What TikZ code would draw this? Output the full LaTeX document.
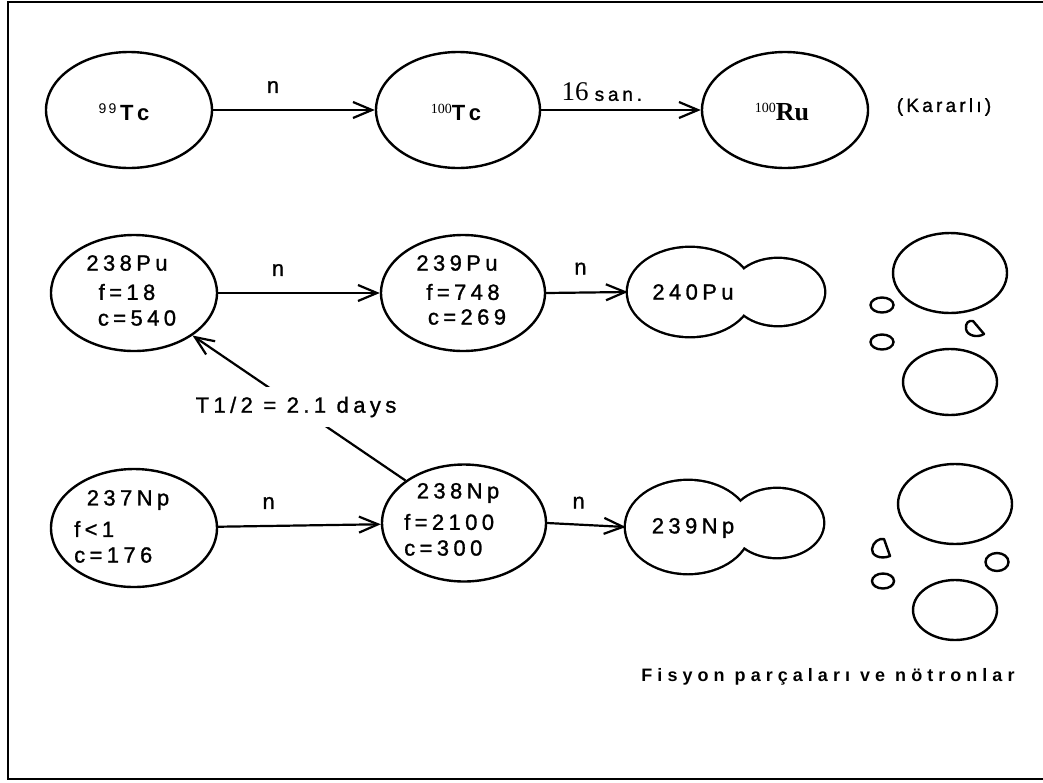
\documentclass[tikz,border=0pt]{standalone}
\usepackage{fontspec}
\setmainfont{Liberation Sans}
\newfontfamily\trk[LetterSpace=20,FakeBold=1.2]{Liberation Sans}
\newfontfamily\trks[LetterSpace=17,FakeBold=1.2]{Liberation Sans}
\newfontfamily\trkc[LetterSpace=28]{Liberation Sans}
\newfontfamily\ser{Liberation Serif}
\usetikzlibrary{arrows.meta,shapes.geometric}

\begin{document}
\begin{tikzpicture}[x=1pt,y=-1pt,
  nuc/.style={draw, ellipse, line width=2.4pt, inner sep=0pt,
              minimum width=166pt, minimum height=116pt},
  lobe/.style={ellipse, inner sep=0pt},
  frag/.style={draw, ellipse, line width=2.4pt, inner sep=0pt},
  conn/.style={line width=2.2pt, -{Straight Barb[length=19pt,width=16pt,line width=2.2pt]}},
  lbl/.style={font=\trk\fontsize{22pt}{24pt}\selectfont, inner sep=0pt},
  llbl/.style={lbl, anchor=west},
  iso/.style={font=\bfseries\fontsize{22pt}{24pt}\selectfont, inner sep=0pt}
]
\useasboundingbox (0,0) rectangle (1043,782);
% frame
\draw[line width=2.6pt] (1043,2) -- (8,2) -- (8,779) -- (1043,779);

% ---- row 1: technetium
\node[nuc] (tc99)  at (129,110) {};
\node[nuc, minimum width=164pt] (tc100) at (458,110) {};
\node[nuc] (ru100) at (785,110) {};
\node[iso] (ttc99) at (124,112) {\raisebox{7pt}{\mdseries\fontsize{14pt}{14pt}\selectfont 9\,9}\,T\,c};
\node[iso] (ttc100) at (456,112) {\raisebox{7pt}{\ser\mdseries\fontsize{14pt}{14pt}\selectfont 100}T\,c};
\node[iso] (tru100) at (782,112) {\raisebox{8pt}{\ser\mdseries\fontsize{14pt}{14pt}\selectfont 100}\ser\fontsize{26pt}{28pt}\selectfont Ru};
\node[font=\trks\fontsize{19pt}{22pt}\selectfont, inner sep=0pt] (kar) at (944,107) {(Kararlı)};
\draw[conn] (tc99) -- (tc100) node[lbl, pos=0.37, yshift=23pt] (n1) {n};
\draw[conn] (tc100) -- (ru100) node[inner sep=0pt, pos=0.38, yshift=18pt] (t16)
  {{\ser\fontsize{27pt}{28pt}\selectfont 16}\hspace{6pt}{\trk\fontsize{19pt}{22pt}\selectfont san.}};

% ---- row 2: plutonium
\node[nuc] (pu238) at (134,293) {};
\node[nuc, minimum width=164pt] (pu239) at (463,293) {};
\node[lbl] (tpu238a) at (127,263) {238Pu};
\node[lbl] (tpu238b) at (127,292) {f=18};
\node[lbl] (tpu238c) at (137,318) {c=540};
\node[lbl] (tpu239a) at (457,263) {239Pu};
\node[lbl] (tpu239b) at (463,292) {f=748};
\node[lbl] (tpu239c) at (467,317) {c=269};

% 240Pu as two merged lobes
\node[lobe, minimum width=124pt, minimum height=88pt] (pu240) at (690,292) {};
\node[lobe, minimum width=92pt, minimum height=66pt] (pu240s) at (778,292) {};
\draw[line width=4.8pt] (pu240.center) ellipse [x radius=62, y radius=44];
\draw[line width=4.8pt] (pu240s.center) ellipse [x radius=46, y radius=33];
\fill[white] (pu240.center) ellipse [x radius=62, y radius=44];
\fill[white] (pu240s.center) ellipse [x radius=46, y radius=33];
\node[lbl] (tpu240) at (693,292) {240Pu};

\draw[conn] (pu238) -- (pu239) node[lbl, pos=0.37, yshift=23pt] (n2) {n};
\draw[conn] (pu239.east) -- (pu240.west) node[lbl, pos=0.42, yshift=24pt] (n3) {n};

% fission products of 240Pu
\node[frag, minimum width=114pt, minimum height=80pt] (fa1) at (950,273) {};
\node[frag, minimum width=94pt, minimum height=66pt] (fa2) at (950,382) {};
\node[frag, minimum width=23pt, minimum height=15pt] (fa3) at (882,305) {};
\node[frag, minimum width=23pt, minimum height=15pt] (fa4) at (882,342) {};
\draw[line width=2.4pt, line join=round] (973,321) -- (984,334)
  .. controls (978,338) and (967,336) .. (966,329)
  .. controls (965,323) and (969,320) .. cycle;

% ---- row 3: neptunium
\node[nuc, minimum height=118pt] (np237) at (134,528) {};
\node[nuc, minimum width=164pt, minimum height=117pt] (np238) at (464,523) {};
\node[lbl] (tnp237a) at (128,500) {237Np};
\node[llbl] (tnp237b) at (74,529) {f<1};
\node[llbl] (tnp237c) at (74,555) {c=176};
\node[lbl] (tnp238a) at (458,493) {238Np};
\node[llbl] (tnp238b) at (404,522) {f=2100};
\node[llbl] (tnp238c) at (404,548) {c=300};

% 239Np as two merged lobes
\node[lobe, minimum width=124pt, minimum height=92pt] (np239) at (688,527) {};
\node[lobe, minimum width=92pt, minimum height=68pt] (np239s) at (777,523) {};
\draw[line width=4.8pt] (np239.center) ellipse [x radius=62, y radius=46];
\draw[line width=4.8pt] (np239s.center) ellipse [x radius=46, y radius=34];
\fill[white] (np239.center) ellipse [x radius=62, y radius=46];
\fill[white] (np239s.center) ellipse [x radius=46, y radius=34];
\node[lbl] (tnp239) at (693,528) {239Np};

\draw[conn] (np237) -- (np238) node[lbl, pos=0.31, yshift=23pt] (n4) {n};
\draw[conn] (np238.east) -- (np239.west) node[lbl, pos=0.4, yshift=22pt] (n5) {n};

% fission products of 239Np
\node[frag, minimum width=114pt, minimum height=80pt] (fb1) at (955,504) {};
\node[frag, minimum width=84pt, minimum height=60pt] (fb2) at (955,610) {};
\node[frag, minimum width=22pt, minimum height=15pt] (fb3) at (883,581) {};
\node[frag, minimum width=23pt, minimum height=18pt] (fb4) at (997,562) {};
\draw[line width=2.4pt, line join=round] (884,539) -- (890,556)
  .. controls (880,560) and (871,555) .. (872,549)
  .. controls (873,542) and (879,538) .. cycle;

% beta decay 238Np -> 238Pu
\draw[conn] (np238.144.8) -- (pu238.-36.7);
\node[lbl, fill=white, inner xsep=3pt, inner ysep=10pt] (thalf) at (296,407) {T1/2 = 2.1 days};

\node[font=\trkc\bfseries\fontsize{18pt}{22pt}\selectfont, inner sep=0pt] (cap) at (828,677)
  {Fisyon parçaları ve nötronlar};
\end{tikzpicture}
\end{document}
